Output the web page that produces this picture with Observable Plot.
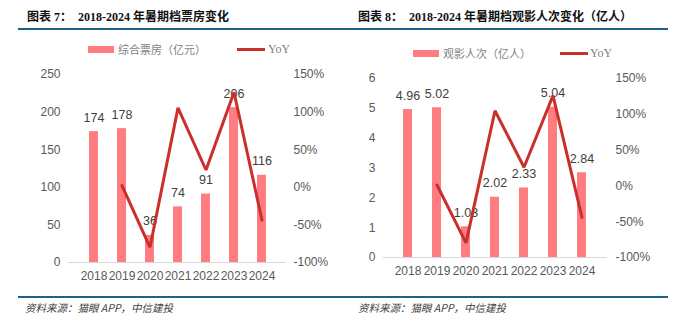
<!DOCTYPE html>
<html><head><meta charset="utf-8">
<script src="https://cdn.jsdelivr.net/npm/d3@7"></script>
<script src="https://cdn.jsdelivr.net/npm/@observablehq/plot@0.6"></script>
<style>
html,body{margin:0;padding:0;background:#fff;}
#root{position:relative;width:700px;height:324px;overflow:hidden;font-family:"Liberation Sans",Arial,sans-serif;}
.title{position:absolute;top:8px;font-family:"Liberation Serif","Noto Sans CJK SC",serif;font-weight:bold;font-size:12px;color:#111;white-space:pre;line-height:18px;}
.rule{position:absolute;height:2px;background:#1f5f8b;}
.legend{position:absolute;font-family:"Noto Sans CJK SC",sans-serif;font-size:11px;color:#7f7f7f;line-height:14px;white-space:nowrap;}
.sw{position:absolute;}
.src{position:absolute;top:300px;font-family:"Noto Sans CJK SC",sans-serif;font-style:italic;font-size:10.5px;color:#404040;line-height:16px;white-space:nowrap;}
.chart{position:absolute;top:60px;}
</style>
</head><body>
<div id="root">
  <div class="title" style="left:27px">图表 7：  2018-2024 年暑期档票房变化</div>
  <div class="title" style="left:358px">图表 8：  2018-2024 年暑期档观影人次变化（亿人）</div>
  <div class="rule" style="left:18px;width:650px;top:28px"></div>

  <div class="sw" style="left:88px;top:46px;width:26px;height:7px;background:#ff7c80"></div>
  <div class="legend" style="left:118px;top:42px">综合票房（亿元）</div>
  <div class="sw" style="left:237px;top:48px;width:28px;height:2.5px;background:#c9302c"></div>
  <div class="legend" style="left:268px;top:42px;font-family:'Liberation Serif',serif;font-size:12px">YoY</div>

  <div class="sw" style="left:413px;top:50px;width:26px;height:7px;background:#ff7c80"></div>
  <div class="legend" style="left:443px;top:46px">观影人次（亿人）</div>
  <div class="sw" style="left:560px;top:52px;width:28px;height:2.5px;background:#c9302c"></div>
  <div class="legend" style="left:590px;top:46px;font-family:'Liberation Serif',serif;font-size:12px">YoY</div>

  <div id="c1" class="chart" style="left:0px"></div>
  <div id="c2" class="chart" style="left:350px"></div>

  <div class="rule" style="left:18px;width:650px;top:296px;height:1.5px"></div>
  <div class="src" style="left:25px">资料来源：猫眼 APP，中信建投</div>
  <div class="src" style="left:358px">资料来源：猫眼 APP，中信建投</div>
</div>
<script>
const years = ["2018","2019","2020","2021","2022","2023","2024"];
const boxOffice = [174, 178, 36, 74, 91, 206, 116];
const boxOfficeLabels = ["174","178","36","74","91","206","116"];
const boxYoY = [null, 2.3, -79.8, 105.6, 23.0, 126.4, -43.7];
const admissions = [4.96, 5.02, 1.03, 2.02, 2.33, 5.04, 2.84];
const admissionLabels = ["4.96","5.02","1.03","2.02","2.33","5.04","2.84"];
const admYoY = [null, 1.2, -79.5, 105, 26, 126, -44];
const leftTicks1 = [0, 50, 100, 150, 200, 250];
const leftTicks2 = [0, 1, 2, 3, 4, 5, 6];
const yoyTicks = [-100, -50, 0, 50, 100, 150];

const BAR = "#ff7c80", LINE = "#c9302c", LABEL = "#404040";

function build(el, values, labels, yoy, leftTicks, yMax, opts) {
  const toLeft = v => (v + 100) * yMax / 250;
  const fromLeft = d => Math.round(d * 250 / yMax - 100);
  const bars = years.map((y, i) => ({year: y, value: values[i], label: labels[i]}));
  const line = years.map((y, i) => ({year: y, yoy: yoy[i]})).filter(d => d.yoy != null);
  const chart = Plot.plot({
    width: 350, height: 230,
    marginTop: opts.mt, marginBottom: opts.mb, marginLeft: opts.ml, marginRight: opts.mr,
    style: {fontFamily: "'Liberation Sans', Arial, sans-serif", fontSize: "12px", color: "#595959", background: "transparent"},
    x: {domain: years, padding: 0.68, label: null},
    y: {domain: [0, yMax], label: null},
    marks: [
      Plot.barY(bars, {x: "year", y: "value", fill: BAR}),
      Plot.ruleY([0], {stroke: "#d9d9d9", strokeWidth: 1}),
      Plot.axisX({tickSize: 0, tickPadding: 9, label: null}),
      Plot.axisY(leftTicks, {anchor: "left", tickSize: 0, tickPadding: 8, label: null}),
      Plot.axisY(yoyTicks.map(toLeft), {anchor: "right", tickSize: 0, tickPadding: opts.rp, label: null, tickFormat: d => fromLeft(d) + "%"}),
      Plot.text(bars, {x: "year", y: "value", text: "label", dy: -14, fill: LABEL, fontSize: 12.5}),
      Plot.lineY(line, {x: "year", y: d => toLeft(d.yoy), stroke: LINE, strokeWidth: 3, strokeLinejoin: "miter"})
    ]
  });
  document.getElementById(el).appendChild(chart);
}

build("c1", boxOffice, boxOfficeLabels, boxYoY, leftTicks1, 250, {mt: 14, mb: 28, ml: 68, mr: 64, rp: 7});
build("c2", admissions, admissionLabels, admYoY, leftTicks2, 6, {mt: 18, mb: 33, ml: 33, mr: 93, rp: 8});
</script>
</body></html>
